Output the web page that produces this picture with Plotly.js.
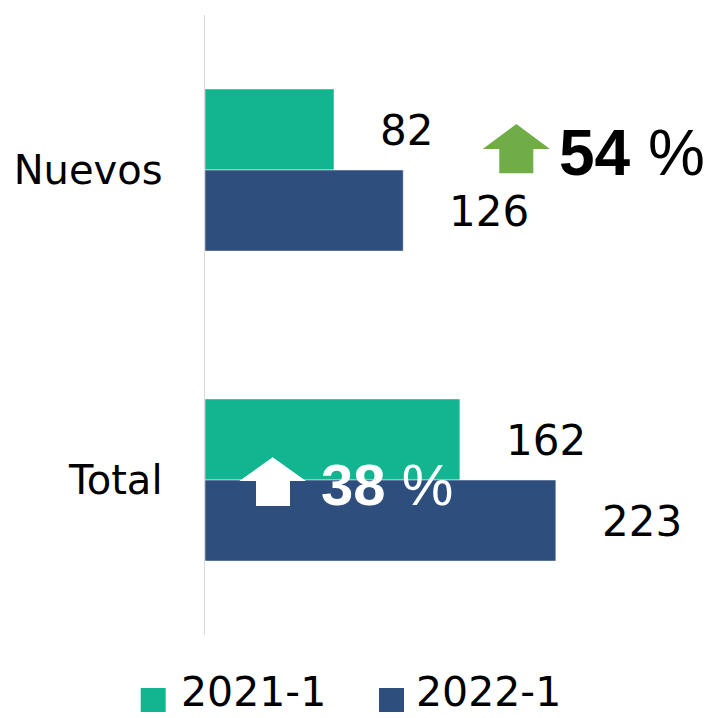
<!DOCTYPE html>
<html>
<head>
<meta charset="utf-8">
<script src="https://cdn.plot.ly/plotly-3.0.1.min.js"></script>
<style>html,body{margin:0;padding:0;background:#fff;}#chart{width:710px;height:718px;}</style>
</head>
<body>
<div id="chart"></div>
<script>
const categories = ['Nuevos', 'Total'];
const seriesNames = ['2021-1', '2022-1'];
const values2021 = [82, 162];
const values2022 = [126, 223];
const changeLabels = ['54', '38'];

const colors = ['#12B58F', '#2E4E7E'];
const seriesValues = [values2021, values2022];

const traces = seriesValues.map((vals, i) => ({
  type: 'bar',
  orientation: 'h',
  name: seriesNames[i],
  y: categories,
  x: vals,
  marker: {color: colors[i], line: {color: '#ffffff', width: 0.5}},
  hoverinfo: 'x+name'
}));

const annotations = [];
seriesValues.forEach((vals, i) => {
  vals.forEach((v, j) => {
    annotations.push({
      x: v, y: categories[j], xref: 'x', yref: 'y',
      text: String(v), showarrow: false,
      xanchor: 'left', yanchor: 'middle',
      xshift: 44, yshift: i === 0 ? 40 : -41,
      font: {family: 'DejaVu Sans', size: 42, color: '#000'}
    });
  });
});

// change labels
annotations.push({
  xref: 'paper', yref: 'paper', x: 0.745, y: 0.777,
  xanchor: 'left', yanchor: 'middle', showarrow: false,
  text: '<b>' + changeLabels[0] + '</b> %',
  font: {family: 'Liberation Sans', size: 64, color: '#000'}
});
annotations.push({
  xref: 'paper', yref: 'paper', x: 0.241, y: 0.243,
  xanchor: 'left', yanchor: 'middle', showarrow: false,
  text: '<b>' + changeLabels[1] + '</b> %',
  font: {family: 'Liberation Sans', size: 58, color: '#fff'}
});

// manual legend text
const legendX = [-0.0525, 0.4445];
seriesNames.forEach((n, i) => {
  annotations.push({
    xref: 'paper', yref: 'paper', x: legendX[i], y: -0.1315,
    xanchor: 'left', yanchor: 'bottom', showarrow: false, borderpad: 0,
    text: n, font: {family: 'DejaVu Sans', size: 41, color: '#000'}
  });
});

function arrowPath(x0, x1, xs0, xs1, yb, yh, yt) {
  const xm = (x0 + x1) / 2;
  return `M ${xs0} ${yb} L ${xs0} ${yh} L ${x0} ${yh} L ${xm} ${yt} L ${x1} ${yh} L ${xs1} ${yh} L ${xs1} ${yb} Z`;
}

const shapes = [
  {type: 'path', xref: 'paper', yref: 'paper',
   path: arrowPath(0.5883, 0.7309, 0.6235, 0.6956, 0.7447, 0.7839, 0.8242),
   fillcolor: '#70AD47', line: {width: 0}},
  {type: 'path', xref: 'paper', yref: 'paper',
   path: arrowPath(0.0727, 0.2140, 0.1081, 0.1801, 0.2081, 0.2484, 0.2866),
   fillcolor: '#ffffff', line: {width: 0}},
  // legend squares
  {type: 'rect', xref: 'paper', yref: 'paper', x0: -0.1362, x1: -0.0833, y0: -0.1242, y1: -0.0855,
   fillcolor: colors[0], line: {width: 0}},
  {type: 'rect', xref: 'paper', yref: 'paper', x0: 0.3686, x1: 0.4216, y0: -0.1242, y1: -0.0855,
   fillcolor: colors[1], line: {width: 0}}
];

const layout = {
  width: 710, height: 718,
  margin: {l: 205, r: 33, t: 15, b: 83},
  paper_bgcolor: '#ffffff', plot_bgcolor: '#ffffff',
  barmode: 'group', bargap: 0.477, bargroupgap: 0,
  showlegend: false,
  xaxis: {range: [0, 300], visible: false, showgrid: false, zeroline: false},
  yaxis: {
    type: 'category', range: [1.5, -0.5],
    showline: true, linecolor: '#D9D9D9', linewidth: 1.5,
    showgrid: false, zeroline: false, ticks: '',
    ticklabelstandoff: 33,
    tickfont: {family: 'DejaVu Sans', size: 40, color: '#000'}
  },
  annotations: annotations,
  shapes: shapes
};

Plotly.newPlot('chart', traces, layout, {staticPlot: true});
</script>
</body>
</html>
